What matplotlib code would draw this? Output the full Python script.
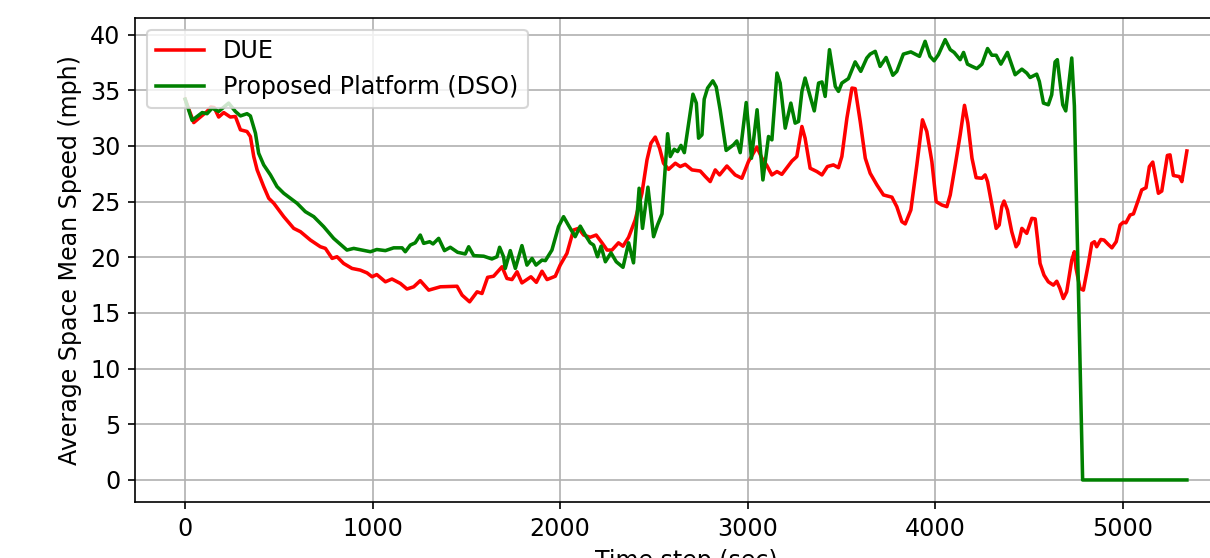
import matplotlib.pyplot as plt

# DUE (red)
t_due = [0, 46, 81, 117, 137, 155, 179, 206, 241, 268, 295, 330, 348, 366, 384, 419, 446, 473, 526, 579,
         615, 668, 721, 748, 784, 810, 845, 890, 934, 970, 997, 1022, 1068, 1103, 1148, 1183, 1219, 1254, 1299, 1361,
         1450, 1477, 1517, 1557, 1583, 1613, 1645, 1690, 1716, 1743, 1770, 1796, 1844, 1873, 1903, 1930, 1974, 2000, 2036, 2071,
         2098, 2125, 2160, 2192, 2223, 2250, 2276, 2311, 2335, 2365, 2400, 2436, 2463, 2484, 2507, 2530, 2551, 2578, 2614, 2640,
         2667, 2703, 2747, 2774, 2800, 2827, 2850, 2889, 2933, 2969, 3004, 3049, 3076, 3102, 3129, 3156, 3182, 3236, 3262, 3289,
         3306, 3333, 3369, 3396, 3425, 3457, 3484, 3502, 3529, 3556, 3573, 3600, 3627, 3653, 3689, 3724, 3769, 3795, 3822, 3840,
         3870, 3902, 3932, 3955, 3982, 4005, 4035, 4062, 4080, 4107, 4133, 4156, 4174, 4196, 4218, 4249, 4266, 4279, 4302, 4325,
         4341, 4355, 4367, 4385, 4408, 4431, 4444, 4462, 4488, 4515, 4533, 4545, 4559, 4580, 4603, 4630, 4648, 4665, 4683, 4701,
         4728, 4742, 4751, 4772, 4790, 4817, 4835, 4849, 4861, 4883, 4900, 4923, 4942, 4965, 4986, 5003, 5017, 5039, 5057, 5083,
         5101, 5124, 5142, 5160, 5190, 5208, 5238, 5252, 5270, 5302, 5315, 5342]
v_due = [34.2, 32.1, 32.6, 33.1, 33.5, 33.45, 32.6, 33.0, 32.6, 32.65, 31.45, 31.3, 30.85, 29.05, 27.85, 26.35, 25.3, 24.85, 23.65, 22.6,
         22.3, 21.55, 20.95, 20.8, 19.9, 20.05, 19.45, 19.0, 18.85, 18.6, 18.25, 18.45, 17.8, 18.05, 17.65, 17.15, 17.35, 17.9, 17.05, 17.35,
         17.4, 16.6, 16.0, 16.9, 16.75, 18.2, 18.3, 19.15, 18.1, 18.0, 18.7, 17.7, 18.25, 17.75, 18.75, 18.0, 18.3, 19.3, 20.35, 22.45,
         22.6, 22.0, 21.8, 22.0, 21.3, 20.65, 20.65, 21.3, 21.0, 21.8, 23.35, 25.75, 28.75, 30.25, 30.8, 29.8, 28.45, 27.9, 28.45, 28.15,
         28.35, 27.85, 27.75, 27.25, 26.8, 27.85, 27.4, 28.2, 27.4, 27.1, 28.6, 29.9, 28.9, 28.25, 27.4, 27.7, 27.45, 28.65, 29.05, 31.75,
         30.7, 28.0, 27.7, 27.4, 28.15, 28.3, 28.05, 29.05, 32.5, 35.2, 35.15, 32.2, 28.9, 27.55, 26.5, 25.6, 25.4, 24.55, 23.2, 23.0,
         24.25, 28.3, 32.35, 31.3, 28.6, 25.0, 24.7, 24.55, 25.6, 28.3, 31.0, 33.65, 32.05, 28.9, 27.15, 27.1, 27.4, 26.8, 24.7, 22.6,
         22.9, 24.55, 25.05, 24.25, 22.3, 20.95, 21.25, 22.6, 22.15, 23.5, 23.45, 21.7, 19.45, 18.4, 17.8, 17.5, 17.85, 17.2, 16.3, 16.9,
         19.75, 20.5, 19.0, 17.2, 17.05, 19.45, 21.25, 21.4, 20.95, 21.6, 21.55, 21.15, 20.85, 21.4, 22.9, 23.15, 23.1, 23.8, 23.9, 25.15,
         26.05, 26.25, 28.15, 28.55, 25.75, 25.95, 29.15, 29.2, 27.35, 27.25, 26.8, 29.55]

# Proposed Platform (DSO) (green)
t_dso = [0, 37, 91, 117, 144, 179, 232, 268, 295, 330, 348, 375, 392, 419, 455, 490, 526, 597, 641, 686,
         739, 792, 863, 899, 988, 1022, 1068, 1112, 1157, 1174, 1201, 1227, 1254, 1272, 1304, 1322, 1352, 1383, 1414, 1453,
         1494, 1512, 1539, 1592, 1636, 1663, 1677, 1698, 1707, 1734, 1761, 1796, 1823, 1850, 1871, 1903, 1921, 1956, 1991, 2018,
         2045, 2080, 2107, 2134, 2160, 2178, 2199, 2218, 2241, 2271, 2299, 2335, 2365, 2391, 2421, 2439, 2468, 2498, 2519, 2543,
         2573, 2587, 2608, 2626, 2644, 2662, 2708, 2726, 2738, 2756, 2768, 2786, 2814, 2832, 2853, 2885, 2924, 2942, 2960, 2992,
         3020, 3050, 3081, 3111, 3129, 3156, 3173, 3200, 3230, 3253, 3271, 3289, 3306, 3333, 3355, 3378, 3396, 3413, 3436, 3467,
         3484, 3502, 3537, 3573, 3603, 3635, 3653, 3680, 3706, 3738, 3774, 3795, 3830, 3870, 3916, 3946, 3972, 3994, 4017, 4053,
         4080, 4101, 4133, 4151, 4172, 4196, 4222, 4249, 4279, 4302, 4325, 4350, 4385, 4426, 4462, 4488, 4506, 4541, 4555, 4577,
         4603, 4621, 4639, 4651, 4680, 4696, 4728, 4742, 4786, 5342]
v_dso = [34.2, 32.3, 33.0, 32.9, 33.4, 33.1, 33.85, 33.1, 32.7, 32.9, 32.7, 31.15, 29.35, 28.3, 27.4, 26.35, 25.75, 24.85, 24.1, 23.65,
         22.75, 21.7, 20.65, 20.8, 20.5, 20.7, 20.6, 20.85, 20.85, 20.5, 21.1, 21.3, 22.0, 21.25, 21.4, 21.2, 21.7, 20.6, 20.9, 20.45,
         20.3, 20.95, 20.15, 20.1, 19.85, 20.05, 20.9, 20.05, 19.0, 20.6, 19.0, 21.05, 19.3, 19.9, 19.3, 19.75, 19.7, 20.65, 22.75, 23.65,
         22.85, 21.85, 22.8, 22.0, 21.3, 21.1, 20.05, 21.0, 19.6, 20.4, 19.6, 19.1, 21.3, 19.5, 26.2, 22.6, 26.3, 21.85, 22.9, 23.9,
         31.1, 29.05, 29.7, 29.5, 30.05, 29.4, 34.65, 33.85, 30.7, 31.0, 34.2, 35.2, 35.85, 35.3, 33.25, 29.6, 30.1, 30.45, 29.4, 33.9,
         28.9, 33.25, 26.95, 30.85, 30.55, 36.55, 35.65, 31.6, 33.85, 32.05, 32.2, 34.9, 36.1, 34.45, 33.15, 35.65, 35.75, 34.45, 38.65, 35.35,
         34.9, 35.65, 36.05, 37.55, 36.7, 37.9, 38.25, 38.5, 37.15, 37.95, 36.35, 36.7, 38.25, 38.45, 38.05, 39.4, 38.05, 37.65, 38.2, 39.55,
         38.65, 38.4, 37.75, 38.4, 37.35, 37.15, 36.95, 37.35, 38.75, 38.15, 38.15, 37.35, 38.4, 36.4, 36.9, 36.55, 36.15, 36.45, 35.8, 33.85,
         33.7, 34.6, 37.55, 37.75, 33.7, 33.15, 37.9, 33.6, 0.0, 0.0]

plt.rcParams['font.size'] = 11.4

fig = plt.figure(figsize=(1210 / 150, 558 / 150), dpi=150)
# axes run past the right edge of the canvas
ax = fig.add_axes([0.1116, 0.1004, 0.9107, 0.868])

ax.plot(t_due, v_due, color='red', lw=1.7, label='DUE')
ax.plot(t_dso, v_dso, color='green', lw=1.7, label='Proposed Platform (DSO)')

ax.set_xlabel('Time step (sec)')
ax.set_ylabel('Average Space Mean Speed (mph)')
ax.set_yticks(range(0, 45, 5))
ax.grid(True)
ax.legend(loc='upper left')

fig.savefig('out.png', dpi=150)
